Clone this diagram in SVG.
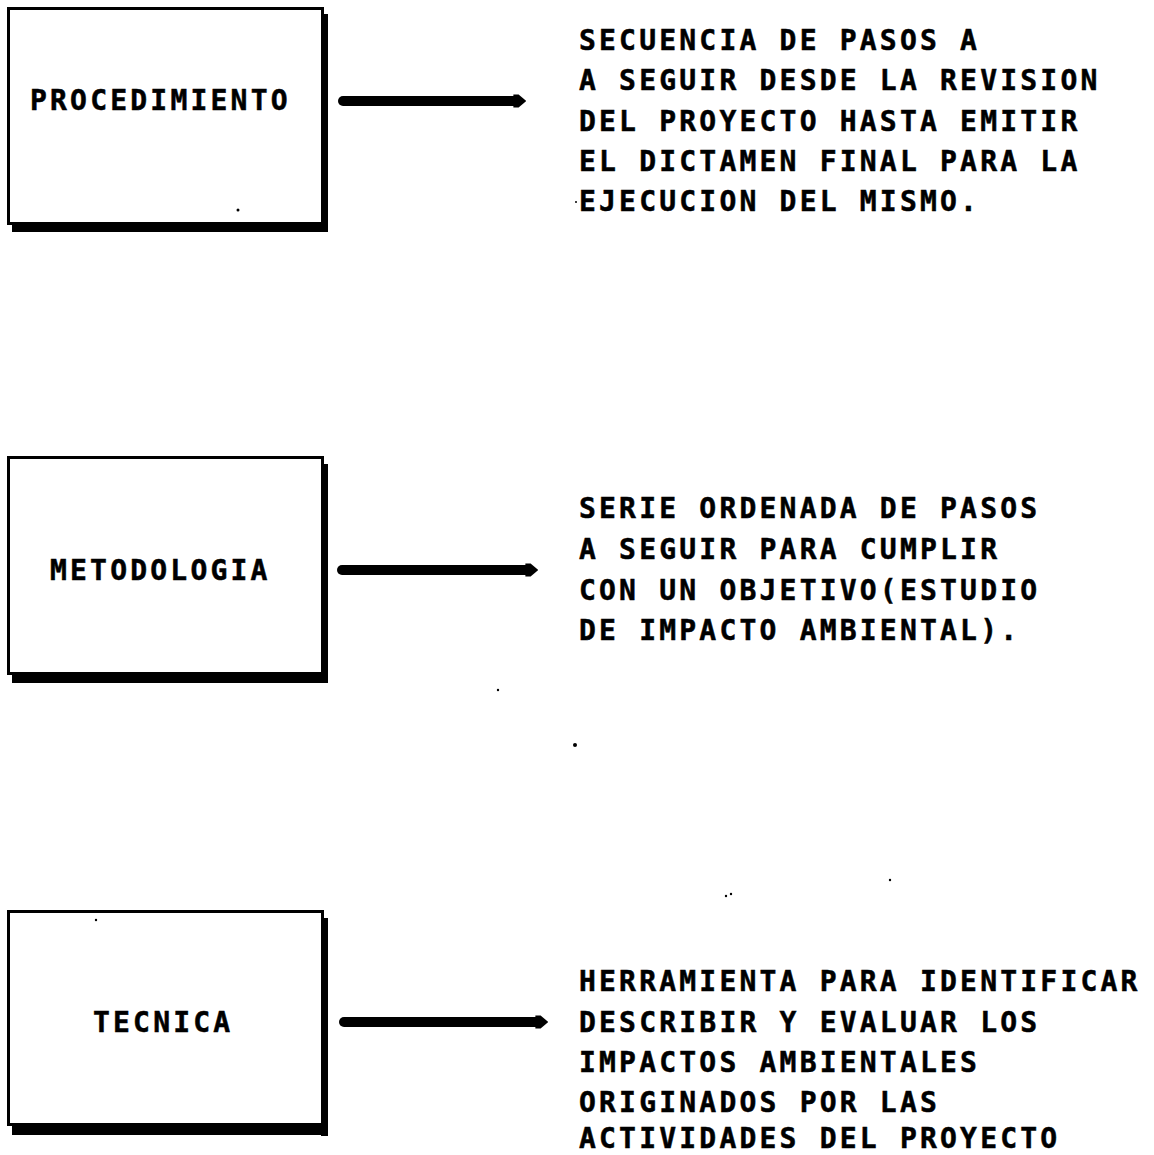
<svg xmlns="http://www.w3.org/2000/svg" width="1154" height="1155" viewBox="0 0 1154 1155">
<style>
.box{fill:#fff;stroke:#000;stroke-width:3}
.shadow{fill:#000}
.lbl,.desc{font-family:"DejaVu Sans Mono","Liberation Mono",monospace;font-weight:bold;font-size:28px;letter-spacing:3.2px;fill:#000;stroke:#000;stroke-width:0.5}
.shaft{stroke:#000;stroke-width:10;stroke-linecap:round;fill:none}
</style>
<defs>
<marker id="ah" viewBox="0 0 10 10" refX="2" refY="5" markerWidth="1.3" markerHeight="2" orient="auto" markerUnits="strokeWidth">
<path d="M0,0 L4,0 L10,5 L4,10 L0,10 Z" fill="#000"/>
</marker>
</defs>
<rect width="1154" height="1155" fill="#fff"/>
<g id="node-procedimiento">
<rect class="box" x="8.5" y="8.5" width="314" height="215"/>
<rect class="shadow" x="321" y="14" width="7" height="218"/>
<rect class="shadow" x="12" y="223" width="316" height="9"/>
<text class="lbl" x="30" y="110">PROCEDIMIENTO</text>
</g>
<g id="node-metodologia">
<rect class="box" x="8.5" y="457.5" width="314" height="216"/>
<rect class="shadow" x="321" y="464" width="7" height="219"/>
<rect class="shadow" x="12" y="673" width="316" height="10"/>
<text class="lbl" x="50" y="580">METODOLOGIA</text>
</g>
<g id="node-tecnica">
<rect class="box" x="8.5" y="911.5" width="314" height="213"/>
<rect class="shadow" x="321" y="918" width="7" height="218"/>
<rect class="shadow" x="12" y="1124" width="316" height="11"/>
<text class="lbl" x="93" y="1032">TECNICA</text>
</g>
<g id="desc-procedimiento">
<text class="desc" x="579" y="50">SECUENCIA DE PASOS A</text>
<text class="desc" x="579" y="90">A SEGUIR DESDE LA REVISION</text>
<text class="desc" x="579" y="131">DEL PROYECTO HASTA EMITIR</text>
<text class="desc" x="579" y="171">EL DICTAMEN FINAL PARA LA</text>
<text class="desc" x="579" y="211">EJECUCION DEL MISMO.</text>
</g>
<g id="desc-metodologia">
<text class="desc" x="579" y="518">SERIE ORDENADA DE PASOS</text>
<text class="desc" x="579" y="559">A SEGUIR PARA CUMPLIR</text>
<text class="desc" x="579" y="600">CON UN OBJETIVO(ESTUDIO</text>
<text class="desc" x="579" y="640">DE IMPACTO AMBIENTAL).</text>
</g>
<g id="desc-tecnica">
<text class="desc" x="579" y="991">HERRAMIENTA PARA IDENTIFICAR</text>
<text class="desc" x="579" y="1032">DESCRIBIR Y EVALUAR LOS</text>
<text class="desc" x="579" y="1072">IMPACTOS AMBIENTALES</text>
<text class="desc" x="579" y="1112">ORIGINADOS POR LAS</text>
<text class="desc" x="579" y="1148">ACTIVIDADES DEL PROYECTO</text>
</g>
<g id="connectors">
<line class="shaft" x1="343" y1="101" x2="516" y2="101" marker-end="url(#ah)"/>
<line class="shaft" x1="342" y1="570" x2="528" y2="570" marker-end="url(#ah)"/>
<line class="shaft" x1="344" y1="1022" x2="538" y2="1022" marker-end="url(#ah)"/>
</g>
<g id="specks" fill="#000">
<circle cx="238" cy="210" r="1.5"/>
<circle cx="498" cy="690" r="1.2"/>
<circle cx="575" cy="745" r="2"/>
<circle cx="726" cy="896" r="1.2"/>
<circle cx="731" cy="894" r="1.2"/>
<circle cx="890" cy="880" r="1.2"/>
<circle cx="96" cy="920" r="1.2"/>
<circle cx="576" cy="202" r="1"/>
</g>
</svg>
